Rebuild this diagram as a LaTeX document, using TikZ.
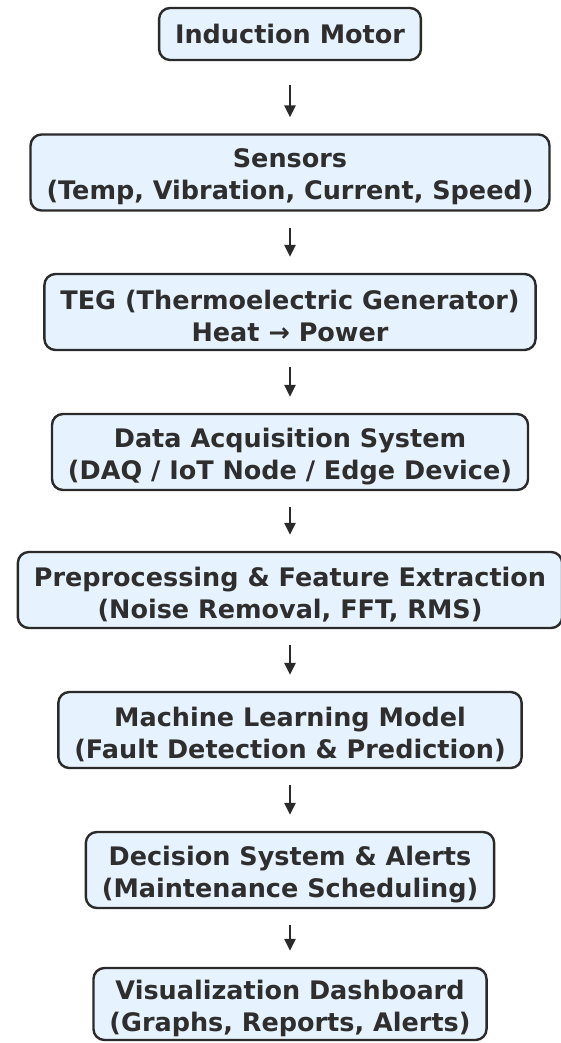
\documentclass[tikz,border=0pt]{standalone}
\usepackage{fontspec}
\setmainfont{DejaVu Sans}
\usetikzlibrary{arrows.meta}
\definecolor{boxfill}{HTML}{E6F2FD}
\definecolor{boxline}{HTML}{2A2A2A}
\definecolor{boxtext}{HTML}{2E2E2E}
% taller first line: pushes two-line captions slightly lower in their boxes
\newcommand{\firstline}{\rule{0pt}{28pt}}
\tikzset{
  stage/.style={draw=boxline, fill=boxfill, line width=2.4pt, rounded corners=11pt,
    text=boxtext, align=center, inner xsep=16pt, inner ysep=0pt,
    font=\bfseries\fontsize{25.5}{32}\selectfont},
  one/.style={stage, minimum height=52pt},
  two/.style={stage, minimum height=76pt},
  flow/.style={draw=boxline, line width=2.8pt,
    -{Triangle[width=11pt,length=12pt]}, shorten <=16pt, shorten >=16pt}
}
\begin{document}
\begin{tikzpicture}[x=1pt,y=-1pt]
\useasboundingbox (0,0) rectangle (561,1043);
\coordinate (axis) at (290,0);
\node[one] (motor) at (290,34) {Induction Motor};
\node[two] (sens) at (290,172.5) {\firstline Sensors\\(Temp, Vibration, Current, Speed)};
\node[two] (teg) at (290,312) {\firstline TEG (Thermoelectric Generator)\\Heat → Power};
\node[two] (daq) at (290,452) {\firstline Data Acquisition System\\(DAQ / IoT Node / Edge Device)};
\node[two] (pre) at (290,590) {\firstline Preprocessing \& Feature Extraction\\(Noise Removal, FFT, RMS)};
\node[two] (ml) at (290,730) {\firstline Machine Learning Model\\(Fault Detection \& Prediction)};
\node[two] (dec) at (290,870) {\firstline Decision System \& Alerts\\(Maintenance Scheduling)};
\node[two, minimum height=72pt] (vis) at (290,1004) {\firstline Visualization Dashboard\\(Graphs, Reports, Alerts)};
\draw[flow, shorten <=24pt] (motor.south -| axis) -- (sens.north -| axis);
\draw[flow] (sens.south -| axis) -- (teg.north -| axis);
\draw[flow] (teg.south -| axis) -- (daq.north -| axis);
\draw[flow] (daq.south -| axis) -- (pre.north -| axis);
\draw[flow] (pre.south -| axis) -- (ml.north -| axis);
\draw[flow] (ml.south -| axis) -- (dec.north -| axis);
\draw[flow] (dec.south -| axis) -- (vis.north -| axis);
\end{tikzpicture}
\end{document}
